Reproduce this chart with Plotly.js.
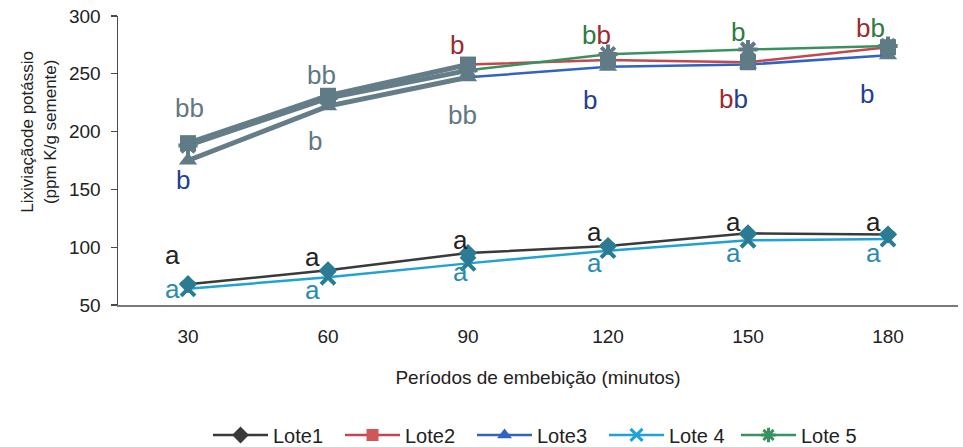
<!DOCTYPE html>
<html>
<head>
<meta charset="utf-8">
<script src="https://cdn.plot.ly/plotly-3.0.1.min.js"></script>
<style>
  html, body { margin: 0; padding: 0; background: #fff; }
  #chart { width: 963px; height: 447px; }
</style>
</head>
<body>
<div id="chart"></div>
<script>
// Períodos de embebição (minutos)
const periodos = [30, 60, 90, 120, 150, 180];

// Lixiviação de potássio (ppm K/g semente) por lote
const lote1 = [68, 80, 95, 101, 112, 111];
const lote2 = [190, 231, 258, 262, 260, 273];
const lote3 = [175, 222, 247, 256, 258, 266];
const lote4 = [64, 74, 86, 97, 106, 107];
const lote5 = [188, 229, 253, 267, 271, 274];

const nomes = ['Lote1', 'Lote2', 'Lote3', 'Lote 4', 'Lote 5'];

// Letras de comparação entre lotes em cada período
const letrasTexto = [
  'bb', 'b', 'a', 'a',
  'bb', 'b', 'a', 'a',
  'b', 'bb', 'a', 'a',
  'gr', 'b', 'a', 'a',
  'b', 'rb', 'a', 'a',
  'rg', 'b', 'a', 'a'
];
const letrasCor = [
  'cinza', 'azul', 'preto', 'ciano',
  'cinza', 'cinza', 'preto', 'ciano',
  'vermelho', 'cinza', 'preto', 'ciano',
  'misto', 'azul', 'preto', 'ciano',
  'verde', 'misto', 'preto', 'ciano',
  'misto', 'azul', 'preto', 'ciano'
];
// where each letter sits (minutes, ppm)
const letrasX = [
  30.4, 28.9, 26.6, 26.6,
  58.7, 57.2, 56.6, 56.6,
  87.6, 88.9, 88.3, 88.3,
  117.6, 116.1, 117.2, 117.2,
  147.9, 146.8, 146.8, 146.8,
  176.3, 175.5, 176.8, 176.8
];
const letrasY = [
  220, 158, 93, 64,
  249, 192, 91.5, 63,
  275, 214, 106, 78.5,
  284, 227, 113, 86,
  286, 228, 122, 95,
  290, 232.5, 122, 95
];

const paleta = {
  cinza: '#5f7883', azul: '#1f3f8f', preto: '#222222', ciano: '#2a8bb0',
  vermelho: '#9b2a31', verde: '#2d7b3f'
};
const misturas = { gr: ['verde', 'vermelho'], rb: ['vermelho', 'azul'], rg: ['vermelho', 'verde'] };

const fonte = 'Liberation Sans, Arial, sans-serif';

const estilos = [
  { cor: '#3a3a3a', simbolo: 'diamond', tam: 13, dados: lote1 },
  { cor: '#cf5757', simbolo: 'square', tam: 12, dados: lote2, corLinha: '#c2474f' },
  { cor: '#3163c2', simbolo: 'triangle-up', tam: 13, dados: lote3 },
  { cor: '#1fa2d4', simbolo: 'x-thin-open', tam: 12, dados: lote4, aberto: true },
  { cor: '#3a9160', simbolo: 'asterisk-open', tam: 12, dados: lote5, aberto: true }
];

const traces = [];

// series with their legend entries
estilos.forEach((s, i) => {
  traces.push({
    x: periodos, y: s.dados, name: nomes[i], type: 'scatter', mode: 'lines+markers',
    line: { color: s.corLinha || s.cor, width: 2.5 },
    marker: {
      symbol: s.simbolo, size: s.tam, color: s.cor,
      line: { color: s.cor, width: s.aberto ? 3 : 0 }
    }
  });
});

// heavy grey strokes over the upper series between 30 and 90 min
[lote2, lote5, lote3].forEach(v => {
  traces.push({
    x: periodos.slice(0, 3), y: v.slice(0, 3), type: 'scatter', mode: 'lines',
    showlegend: false, hoverinfo: 'skip',
    line: { color: '#647d88', width: 5 }
  });
});

// point markers painted in the plot's marker tones
estilos.forEach((s, i) => {
  const alto = i === 1 || i === 2 || i === 4;
  traces.push({
    x: periodos, y: s.dados, type: 'scatter', mode: 'markers',
    showlegend: false, hoverinfo: 'skip',
    marker: {
      symbol: s.simbolo, size: alto ? 16 : 14,
      color: alto ? '#5f7b86' : '#2b7c93',
      line: { color: alto ? '#5f7b86' : '#2b7c93', width: s.aberto ? 4 : 0 }
    }
  });
});

const annotations = letrasTexto.map((t, i) => {
  let texto;
  if (letrasCor[i] === 'misto') {
    const par = misturas[t];
    texto = '<span style="color:' + paleta[par[0]] + '">b</span>' +
            '<span style="color:' + paleta[par[1]] + '">b</span>';
  } else {
    texto = t;
  }
  return {
    x: letrasX[i], y: letrasY[i], xref: 'x', yref: 'y', text: texto, showarrow: false,
    font: { family: fonte, size: 26, color: letrasCor[i] === 'misto' ? '#222' : paleta[letrasCor[i]] },
    xanchor: 'center', yanchor: 'middle'
  };
});

// y-axis title, two lines
annotations.push({
  xref: 'paper', yref: 'paper', x: -0.094, y: 0.6, xanchor: 'center', yanchor: 'middle',
  text: 'Lixiviaçãode potássio<br>(ppm K/g semente)', textangle: -90, showarrow: false,
  font: { family: fonte, size: 17, color: '#222' }
});

const layout = {
  width: 963, height: 447,
  margin: { l: 118, r: 5, t: 16, b: 142 },
  paper_bgcolor: '#ffffff', plot_bgcolor: '#ffffff',
  font: { family: fonte, color: '#222' },
  showlegend: true,
  legend: {
    orientation: 'h', x: 0.5, xanchor: 'center',
    yref: 'container', y: 0.027, yanchor: 'middle',
    font: { family: fonte, size: 20, color: '#222' }, itemwidth: 55,
    entrywidth: 62, entrywidthmode: 'pixels',
    traceorder: 'normal'
  },
  xaxis: {
    range: [15, 195], tickvals: periodos, ticktext: periodos.map(String),
    showline: true, linecolor: '#7a7a7a', linewidth: 1.5, showgrid: false, zeroline: false,
    ticks: '', tickfont: { family: fonte, size: 19, color: '#222' }, ticklabelstandoff: 14,
    title: { text: 'Períodos de embebição (minutos)', font: { family: fonte, size: 19, color: '#222' }, standoff: 24 }
  },
  yaxis: {
    range: [50, 300], dtick: 50, tick0: 50,
    showline: true, linecolor: '#4a4a4a', linewidth: 1.5, showgrid: false, zeroline: false,
    ticks: 'outside', ticklen: 6, tickcolor: '#4a4a4a', tickwidth: 1.2,
    tickfont: { family: fonte, size: 19, color: '#222' }, ticklabelstandoff: 6
  },
  annotations: annotations
};

Plotly.newPlot('chart', traces, layout, { displayModeBar: false, staticPlot: true });
</script>
</body>
</html>
